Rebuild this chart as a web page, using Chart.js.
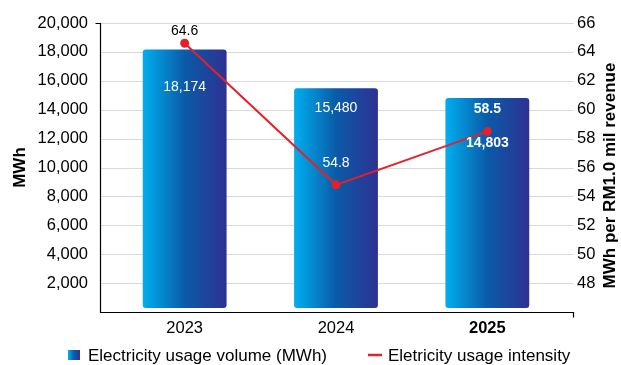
<!DOCTYPE html>
<html>
<head>
<meta charset="utf-8">
<script src="https://cdn.jsdelivr.net/npm/chart.js@4/dist/chart.umd.min.js"></script>
<style>
  html, body { margin: 0; padding: 0; background: #fff; }
  #wrap { width: 621px; height: 365px; }
</style>
</head>
<body>
<div id="wrap"><canvas id="c" width="621" height="365"></canvas></div>
<script>
// ---- data ----
const years = ['2023', '2024', '2025'];
const usageVolume = [18174, 15480, 14803];        // MWh
const usageIntensity = [64.6, 54.8, 58.5];        // MWh per RM1.0 mil revenue
const volumeTicks = [2000, 4000, 6000, 8000, 10000, 12000, 14000, 16000, 18000, 20000];
const intensityTicks = [48, 50, 52, 54, 56, 58, 60, 62, 64, 66];
const volumeLabel = 'Electricity usage volume (MWh)';
const intensityLabel = 'Eletricity usage intensity';
const volumeAxisTitle = 'MWh';
const intensityAxisTitle = 'MWh per RM1.0 mil revenue';

// ---- styling ----
const FONT = '"Liberation Sans", Arial, Helvetica, sans-serif';
const RED = '#e5202b';
const barShare = 0.554;
const lastIdx = years.length - 1;

function blueGradient(ctx, x0, x1) {
  const g = ctx.createLinearGradient(x0, 0, x1, 0);
  g.addColorStop(0, '#00aeef');
  g.addColorStop(0.5, '#0a5ba8');
  g.addColorStop(1, '#2e3192');
  return g;
}

function barFill(context) {
  const chart = context.chart;
  if (!chart.chartArea || context.dataIndex === undefined) return '#0a5ba8';
  const xs = chart.scales.x;
  const cx = xs.getPixelForValue(context.dataIndex);
  const half = xs.width / years.length * barShare / 2;
  return blueGradient(chart.ctx, cx - half, cx + half);
}

const fmt = v => Number(v).toLocaleString('en-US');

// keep the plot area fixed: no extra room for overhanging tick labels
const noOverhang = s => { s.paddingTop = 0; s.paddingBottom = 0; };

// gridlines and axis frame
const framePlugin = {
  id: 'frame',
  beforeDatasetsDraw(chart) {
    const { ctx, chartArea } = chart;
    const ys = chart.scales.y;
    const xL = Math.round(chartArea.left - 9) + 0.5;
    const xR = Math.round(chartArea.right + 10) + 0.5;
    const yB = Math.round(chartArea.bottom) + 0.5;
    const yT = Math.round(ys.getPixelForValue(ys.max)) + 0.5;
    ctx.save();
    ctx.lineWidth = 1;
    ctx.strokeStyle = '#d9d9d9';
    ys.ticks.forEach(t => {
      const y = Math.round(ys.getPixelForValue(t.value)) + 0.5;
      ctx.beginPath();
      ctx.moveTo(xL, y);
      ctx.lineTo(xR, y);
      ctx.stroke();
    });
    ctx.strokeStyle = '#000';
    ctx.lineWidth = 1.2;
    ctx.beginPath();
    ctx.moveTo(xL - 5, yT);
    ctx.lineTo(xL, yT);
    ctx.lineTo(xL, yB);
    ctx.lineTo(xR, yB);
    ctx.lineTo(xR, yB + 5);
    ctx.stroke();
    ctx.restore();
  },
  afterDraw(chart) {
    // right axis title, reading bottom to top
    const ctx = chart.ctx;
    const ca = chart.chartArea;
    ctx.save();
    ctx.translate(610, (ca.top + ca.bottom) / 2 + 8);
    ctx.rotate(-Math.PI / 2);
    ctx.font = 'bold 17px ' + FONT;
    ctx.fillStyle = '#000';
    ctx.textAlign = 'center';
    ctx.textBaseline = 'middle';
    ctx.fillText(intensityAxisTitle, 0, 0);
    ctx.restore();
  }
};

// value labels on bars and line points
const barLabelDrop = [38, 20, 45];
const lineLabelLift = [-12, -22, -22];
const lineLabelColor = ['#000', '#fff', '#fff'];
const valuePlugin = {
  id: 'values',
  afterDatasetsDraw(chart) {
    const ctx = chart.ctx;
    ctx.save();
    ctx.textAlign = 'center';
    ctx.textBaseline = 'middle';
    chart.getDatasetMeta(0).data.forEach((el, i) => {
      ctx.font = (i === lastIdx ? 'bold ' : '') + '14px ' + FONT;
      ctx.fillStyle = '#fff';
      ctx.fillText(fmt(usageVolume[i]), el.x, el.y + barLabelDrop[i]);
    });
    chart.getDatasetMeta(1).data.forEach((el, i) => {
      ctx.font = (i === lastIdx ? 'bold ' : '') + '14px ' + FONT;
      ctx.fillStyle = lineLabelColor[i];
      ctx.fillText(usageIntensity[i].toFixed(1), el.x, el.y + lineLabelLift[i]);
    });
    ctx.restore();
  }
};

// legend row under the axis
const legendPlugin = {
  id: 'legendRow',
  afterDraw(chart) {
    const ctx = chart.ctx;
    const y = 355;
    ctx.save();
    ctx.font = '17px ' + FONT;
    ctx.textBaseline = 'middle';
    ctx.textAlign = 'left';
    ctx.fillStyle = blueGradient(ctx, 68, 80);
    ctx.fillRect(68, y - 5, 12, 10);
    ctx.fillStyle = '#000';
    ctx.fillText(chart.data.datasets[0].label, 88, y + 1);
    ctx.strokeStyle = RED;
    ctx.lineWidth = 2.5;
    ctx.beginPath();
    ctx.moveTo(368, y);
    ctx.lineTo(382, y);
    ctx.stroke();
    ctx.fillText(chart.data.datasets[1].label, 388, y + 1);
    ctx.restore();
  }
};

new Chart(document.getElementById('c'), {
  data: {
    labels: years,
    datasets: [
      {
        type: 'bar',
        label: volumeLabel,
        data: usageVolume,
        yAxisID: 'y',
        backgroundColor: barFill,
        borderRadius: 3,
        borderSkipped: false,
        base: 276,
        barPercentage: barShare,
        categoryPercentage: 1,
        order: 2
      },
      {
        type: 'line',
        label: intensityLabel,
        data: usageIntensity,
        yAxisID: 'y1',
        borderColor: RED,
        backgroundColor: RED,
        borderWidth: 2,
        pointRadius: 3.5,
        pointBackgroundColor: RED,
        pointBorderColor: RED,
        tension: 0,
        order: 1
      }
    ]
  },
  options: {
    responsive: false,
    devicePixelRatio: 1,
    animation: false,
    layout: { padding: { top: 23, bottom: 23, left: 0, right: 0 } },
    plugins: { legend: { display: false }, tooltip: { enabled: false } },
    scales: {
      x: {
        type: 'category',
        position: 'bottom',
        grid: { display: false, drawTicks: false },
        border: { display: false },
        ticks: {
          color: '#000',
          padding: 7,
          font: c => ({ family: FONT, size: 16.5, weight: c.index === lastIdx ? 'bold' : 'normal' })
        },
        afterFit: s => { s.height = 30; }
      },
      y: {
        type: 'linear',
        position: 'left',
        min: 0,
        max: 20000,
        grid: { display: false, drawTicks: false },
        border: { display: false },
        afterBuildTicks: s => { s.ticks = volumeTicks.map(v => ({ value: v })); },
        ticks: { color: '#000', padding: 21, font: { family: FONT, size: 16.5 }, callback: v => fmt(v) },
        title: { display: true, text: volumeAxisTitle, color: '#000', font: { family: FONT, size: 17, weight: 'bold' }, padding: { top: 10, bottom: 0 } },
        afterFit: s => { s.width = 109; noOverhang(s); }
      },
      y1: {
        type: 'linear',
        position: 'right',
        min: 46,
        max: 66,
        grid: { display: false, drawTicks: false },
        border: { display: false },
        afterBuildTicks: s => { s.ticks = intensityTicks.map(v => ({ value: v })); },
        ticks: { color: '#000', padding: 14, font: { family: FONT, size: 16.5 } },
        afterFit: s => { s.width = 58; noOverhang(s); }
      }
    }
  },
  plugins: [framePlugin, valuePlugin, legendPlugin]
});
</script>
</body>
</html>
